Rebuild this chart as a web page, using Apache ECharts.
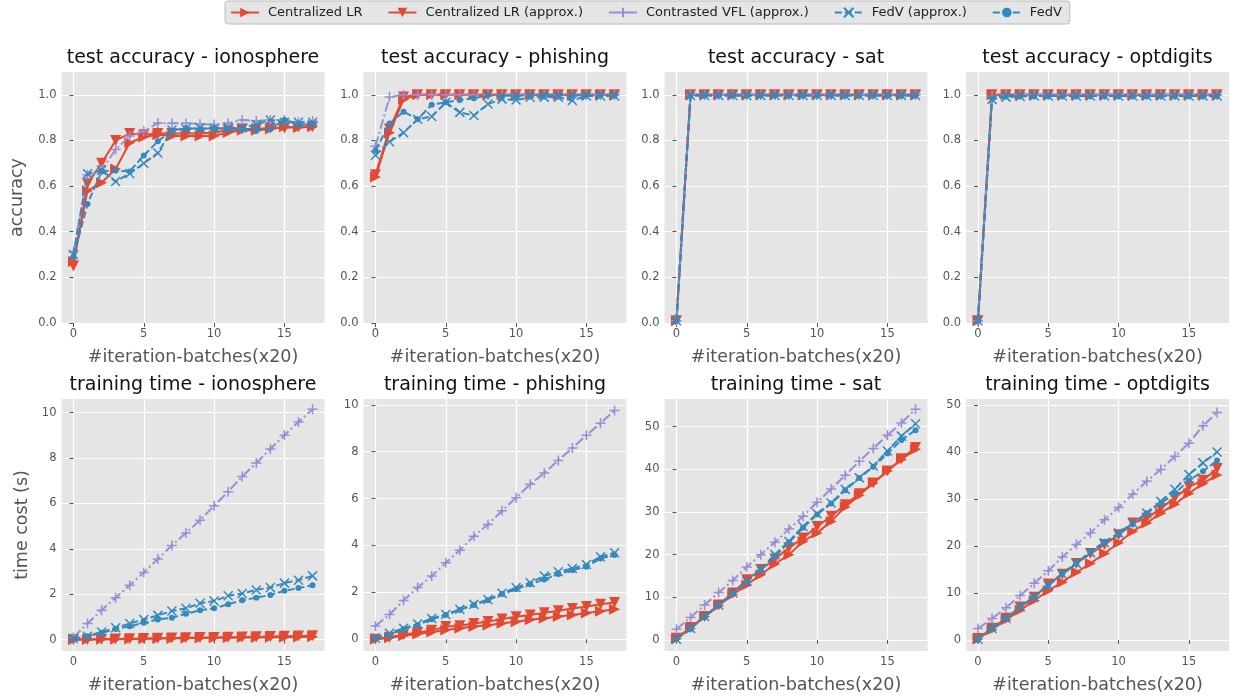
<!DOCTYPE html>
<html><head><meta charset="utf-8">
<script src="https://cdn.jsdelivr.net/npm/echarts@6/dist/echarts.min.js"></script>
<style>html,body{margin:0;padding:0;background:#fff}#c{width:1236px;height:700px}</style>
</head><body><div id="c"></div>
<script>
// ---------- data ----------
const ITER = [0,1,2,3,4,5,6,7,8,9,10,11,12,13,14,15,16,17];
const DATASETS = ['ionosphere','phishing','sat','optdigits'];
const METHODS = ['Centralized LR','Centralized LR (approx.)','Contrasted VFL (approx.)','FedV (approx.)','FedV'];
const X_TICKS = [0,5,10,15];
const ACC_TICKS = [0,0.2,0.4,0.6,0.8,1.0];
const TIME_TICKS_SMALL = [0,2,4,6,8,10];
const TIME_TICKS_LARGE = [0,10,20,30,40,50];

// test accuracy - ionosphere
const acc_ionosphere_clr    = [0.27,0.58,0.615,0.675,0.79,0.815,0.825,0.82,0.82,0.82,0.82,0.835,0.845,0.845,0.85,0.86,0.857,0.86];
const acc_ionosphere_clra   = [0.25,0.61,0.70,0.80,0.83,0.825,0.83,0.83,0.83,0.83,0.835,0.845,0.85,0.85,0.855,0.855,0.86,0.86];
const acc_ionosphere_cvfl   = [0.31,0.65,0.67,0.76,0.82,0.84,0.876,0.875,0.875,0.872,0.87,0.875,0.89,0.885,0.89,0.89,0.88,0.885];
const acc_ionosphere_fedva  = [0.30,0.654,0.67,0.62,0.655,0.70,0.745,0.846,0.85,0.855,0.85,0.855,0.855,0.87,0.89,0.88,0.88,0.88];
const acc_ionosphere_fedv   = [0.29,0.522,0.664,0.668,0.664,0.734,0.796,0.843,0.855,0.85,0.855,0.85,0.85,0.843,0.85,0.89,0.87,0.87];
// test accuracy - phishing
const acc_phishing_clr      = [0.64,0.834,0.98,1.0,1.0,1.0,1.0,1.0,1.0,1.0,1.0,1.0,1.0,1.0,1.0,1.0,1.0,1.0];
const acc_phishing_clra     = [0.65,0.85,0.99,1.0,1.0,1.0,1.0,1.0,1.0,1.0,1.0,1.0,1.0,1.0,1.0,1.0,1.0,1.0];
const acc_phishing_cvfl     = [0.775,0.99,1.0,1.0,1.0,1.0,1.0,1.0,1.0,1.0,1.0,1.0,1.0,1.0,1.0,1.0,1.0,1.0];
const acc_phishing_fedva    = [0.735,0.794,0.834,0.893,0.905,0.966,0.923,0.909,0.96,0.981,0.977,0.989,0.99,0.99,0.975,0.995,0.995,0.995];
const acc_phishing_fedv     = [0.757,0.874,0.926,0.893,0.957,0.967,0.977,0.985,0.998,0.995,0.997,0.997,0.998,0.998,0.998,0.998,0.998,0.998];
// test accuracy - sat
const acc_sat_clr           = [0.01,1.0,1.0,1.0,1.0,1.0,1.0,1.0,1.0,1.0,1.0,1.0,1.0,1.0,1.0,1.0,1.0,1.0];
const acc_sat_clra          = [0.01,1.0,1.0,1.0,1.0,1.0,1.0,1.0,1.0,1.0,1.0,1.0,1.0,1.0,1.0,1.0,1.0,1.0];
const acc_sat_cvfl          = [0.01,1.0,1.0,1.0,1.0,1.0,1.0,1.0,1.0,1.0,1.0,1.0,1.0,1.0,1.0,1.0,1.0,1.0];
const acc_sat_fedva         = [0.01,0.997,0.997,0.997,0.997,0.997,0.997,0.997,0.997,0.997,0.997,0.997,0.997,0.997,0.997,0.997,0.997,0.997];
const acc_sat_fedv          = [0.01,0.997,0.997,0.997,0.997,0.997,0.997,0.997,0.997,0.997,0.997,0.997,0.997,0.997,0.997,0.997,0.997,0.997];
// test accuracy - optdigits
const acc_optdigits_clr     = [0.01,1.0,1.0,1.0,1.0,1.0,1.0,1.0,1.0,1.0,1.0,1.0,1.0,1.0,1.0,1.0,1.0,1.0];
const acc_optdigits_clra    = [0.01,1.0,1.0,1.0,1.0,1.0,1.0,1.0,1.0,1.0,1.0,1.0,1.0,1.0,1.0,1.0,1.0,1.0];
const acc_optdigits_cvfl    = [0.01,0.995,1.0,1.0,1.0,1.0,1.0,1.0,1.0,1.0,1.0,1.0,1.0,1.0,1.0,1.0,1.0,1.0];
const acc_optdigits_fedva   = [0.01,0.98,0.99,0.993,0.995,0.995,0.995,0.995,0.995,0.995,0.995,0.995,0.995,0.995,0.995,0.995,0.995,0.995];
const acc_optdigits_fedv    = [0.01,0.985,0.995,0.995,0.995,0.995,0.995,0.995,0.995,0.995,0.995,0.995,0.995,0.995,0.995,0.995,0.995,0.995];

// training time - ionosphere
const time_ionosphere_clr   = [0.0,0.01,0.02,0.02,0.03,0.04,0.05,0.05,0.06,0.07,0.08,0.08,0.09,0.10,0.11,0.11,0.12,0.13];
const time_ionosphere_clra  = [0.0,0.01,0.02,0.03,0.04,0.05,0.06,0.07,0.08,0.09,0.10,0.11,0.12,0.13,0.14,0.15,0.16,0.17];
const time_ionosphere_cvfl  = [0.1,0.71,1.3,1.85,2.4,2.96,3.55,4.15,4.7,5.26,5.9,6.52,7.19,7.78,8.4,9.0,9.59,10.15];
const time_ionosphere_fedva = [0.05,0.15,0.34,0.52,0.71,0.89,1.07,1.26,1.38,1.6,1.7,1.93,2.03,2.19,2.3,2.49,2.62,2.81];
const time_ionosphere_fedv  = [0.03,0.15,0.3,0.47,0.59,0.74,0.89,0.96,1.14,1.29,1.38,1.56,1.73,1.85,1.97,2.15,2.27,2.4];
// training time - phishing
const time_phishing_clr     = [0.0,0.07,0.15,0.23,0.31,0.4,0.47,0.55,0.6,0.68,0.75,0.83,0.9,0.97,1.04,1.12,1.2,1.28];
const time_phishing_clra    = [0.0,0.09,0.19,0.29,0.38,0.54,0.58,0.67,0.76,0.86,0.96,1.04,1.13,1.22,1.31,1.4,1.49,1.57];
const time_phishing_cvfl    = [0.57,1.06,1.65,2.21,2.7,3.26,3.8,4.4,4.9,5.48,6.04,6.61,7.09,7.63,8.16,8.7,9.22,9.76];
const time_phishing_fedva   = [0.04,0.26,0.47,0.65,0.89,1.06,1.28,1.49,1.7,1.96,2.21,2.41,2.7,2.88,3.02,3.19,3.52,3.69];
const time_phishing_fedv    = [0.03,0.18,0.43,0.61,0.85,1.04,1.25,1.46,1.67,1.93,2.13,2.35,2.55,2.78,2.95,3.09,3.45,3.59];
// training time - sat
const time_sat_clr          = [0.3,2.7,5.5,8.0,10.6,12.9,15.3,17.8,20.0,23.1,25.1,27.8,31.2,33.9,36.8,39.6,42.3,44.7];
const time_sat_clra         = [0.4,2.9,5.5,8.2,11.0,14.1,16.5,19.0,21.6,23.9,26.6,29.0,31.7,34.3,36.8,39.6,42.5,45.1];
const time_sat_cvfl         = [2.5,5.25,8.2,11.1,13.95,17.1,20.0,22.9,26.0,29.0,32.3,35.4,38.6,41.9,44.9,48.0,50.9,54.1];
const time_sat_fedva        = [0.15,2.7,5.5,8.2,11.0,13.7,16.6,20.0,23.1,26.6,29.6,32.1,35.3,38.0,40.8,44.3,47.8,50.7];
const time_sat_fedv         = [0.2,2.6,5.4,8.1,10.9,13.6,16.5,19.6,22.9,26.3,29.4,32.0,35.1,38.0,40.6,43.7,46.9,49.2];
// training time - optdigits
const time_optdigits_clr    = [0.2,2.2,4.3,6.3,8.4,10.5,12.3,14.4,16.3,18.4,20.7,23.1,24.9,27.0,28.9,31.2,33.3,35.1];
const time_optdigits_clra   = [0.3,2.5,4.6,7.0,9.1,11.9,14.0,16.3,18.4,20.3,22.4,24.9,25.9,28.0,30.3,32.6,34.0,36.5];
const time_optdigits_cvfl   = [2.45,4.56,6.87,9.47,12.06,14.73,17.67,20.34,22.79,25.6,28.2,31.0,33.8,36.3,39.1,41.9,45.6,48.4];
const time_optdigits_fedva  = [0.14,2.45,4.56,7.0,9.1,11.6,14.0,16.3,18.6,20.7,22.8,24.9,27.0,29.5,32.1,35.2,37.7,40.0];
const time_optdigits_fedv   = [0.2,2.5,4.6,7.0,9.2,11.8,14.2,16.4,18.8,20.9,22.4,24.7,27.0,29.1,31.2,34.0,35.9,38.2];

// ---------- assembly ----------
const ACC = [
  [acc_ionosphere_clr,acc_ionosphere_clra,acc_ionosphere_cvfl,acc_ionosphere_fedva,acc_ionosphere_fedv],
  [acc_phishing_clr,acc_phishing_clra,acc_phishing_cvfl,acc_phishing_fedva,acc_phishing_fedv],
  [acc_sat_clr,acc_sat_clra,acc_sat_cvfl,acc_sat_fedva,acc_sat_fedv],
  [acc_optdigits_clr,acc_optdigits_clra,acc_optdigits_cvfl,acc_optdigits_fedva,acc_optdigits_fedv]
];
const TIME = [
  [time_ionosphere_clr,time_ionosphere_clra,time_ionosphere_cvfl,time_ionosphere_fedva,time_ionosphere_fedv],
  [time_phishing_clr,time_phishing_clra,time_phishing_cvfl,time_phishing_fedva,time_phishing_fedv],
  [time_sat_clr,time_sat_clra,time_sat_cvfl,time_sat_fedva,time_sat_fedv],
  [time_optdigits_clr,time_optdigits_clra,time_optdigits_cvfl,time_optdigits_fedva,time_optdigits_fedv]
];

const RED='#E24A33', BLUE='#348ABD', PURPLE='#988ED5';
const STYLES = [
  {color:RED, dash:'solid', symbol:'triangle', rotate:-90, size:11, stroke:false},
  {color:RED, dash:'solid', symbol:'triangle', rotate:180, size:11, stroke:false},
  {color:PURPLE, dash:[10,3,2,3], symbol:'path://M5,0L5,10M0,5L10,5', rotate:0, size:10, stroke:true},
  {color:BLUE, dash:[7,3], symbol:'path://M0,0L10,10M10,0L0,10', rotate:0, size:9, stroke:true},
  {color:BLUE, dash:[7,3], symbol:'circle', rotate:0, size:6, stroke:false}
];

const FONT = 'DejaVu Sans';
const LEFTS = [61.5, 363.5, 664.5, 966];
const W = 263;
const ROWS = [{top:72, height:251}, {top:399, height:252}];
const TIME_RANGES = [[-0.5,10.6,TIME_TICKS_SMALL],[-0.5,10.25,TIME_TICKS_SMALL],[-2.6,56.5,TIME_TICKS_LARGE],[-2.35,51.3,TIME_TICKS_LARGE]];

const grids=[], xAxes=[], yAxes=[], series=[], titles=[];
for (let r=0;r<2;r++){
  for (let c=0;c<4;c++){
    const idx = r*4+c;
    grids.push({left:LEFTS[c], top:ROWS[r].top, width:W, height:ROWS[r].height,
      show:true, backgroundColor:'#E5E5E5', borderWidth:0, containLabel:false});
    titles.push({text:(r===0?'test accuracy - ':'training time - ')+DATASETS[c],
      left:LEFTS[c]+W/2, top:ROWS[r].top-23, textAlign:'center', padding:0,
      textStyle:{fontFamily:FONT, fontSize:19, fontWeight:'normal', color:'#111'}});
    xAxes.push({type:'value', gridIndex:idx, min:-0.85, max:17.85,
      name:'#iteration-batches(x20)', nameLocation:'middle', nameGap:25,
      nameTextStyle:{fontFamily:FONT, fontSize:17.5, color:'#555'},
      axisLine:{show:false},
      axisTick:{show:true, length:4, lineStyle:{color:'#555', width:1}, customValues:X_TICKS},
      axisLabel:{customValues:X_TICKS, fontFamily:FONT, fontSize:11.5, color:'#555', margin:5},
      splitLine:{show:true, lineStyle:{color:'#fff', width:1.2}}});
    let ymin, ymax, yt, fmt;
    if (r===0){ ymin=0; ymax=1.1; yt=ACC_TICKS; fmt=v=>v.toFixed(1); }
    else { ymin=TIME_RANGES[c][0]; ymax=TIME_RANGES[c][1]; yt=TIME_RANGES[c][2]; fmt=v=>String(Math.round(v)); }
    yAxes.push({type:'value', gridIndex:idx, min:ymin, max:ymax,
      name: c===0 ? (r===0?'accuracy':'time cost (s)') : '',
      nameLocation:'middle', nameGap: r===0?35:30, nameRotate:90,
      nameTextStyle:{fontFamily:FONT, fontSize:17.5, color:'#555'},
      axisLine:{show:false},
      axisTick:{show:true, length:4, lineStyle:{color:'#555', width:1}, customValues:yt},
      axisLabel:{customValues:yt, formatter:fmt, fontFamily:FONT, fontSize:11.5, color:'#555', margin:5},
      splitLine:{show:true, lineStyle:{color:'#fff', width:1.2}}});
    const data = r===0 ? ACC[c] : TIME[c];
    for (let m=0;m<5;m++){
      const s = STYLES[m];
      series.push({type:'line', name:METHODS[m], xAxisIndex:idx, yAxisIndex:idx,
        data: ITER.map((x,i)=>[x, data[m][i]]),
        symbol:s.symbol, symbolSize:s.size, symbolRotate:s.rotate, symbolKeepAspect:true,
        showSymbol:true, clip:false,
        lineStyle:{color:s.color, width:2, type:s.dash},
        itemStyle: s.stroke ? {color:s.color, borderColor:s.color, borderWidth:1.5}
                            : {color:s.color, borderWidth:0},
        emphasis:{disabled:true}, animation:false, z:2+m});
    }
  }
}

const chart = echarts.init(document.getElementById('c'), null, {renderer:'canvas'});
chart.setOption({
  animation:false,
  backgroundColor:'#fff',
  title: titles,
  legend:{data:METHODS, top:1, left:225, padding:[5,8,5,5], itemGap:25,
    itemWidth:28, itemHeight:12,
    backgroundColor:'#E5E5E5', borderColor:'#BDBDBD', borderWidth:1, borderRadius:3,
    textStyle:{fontFamily:FONT, fontSize:13, color:'#222', padding:[0,0,0,4]}},
  grid: grids, xAxis: xAxes, yAxis: yAxes, series: series
});
</script></body></html>
